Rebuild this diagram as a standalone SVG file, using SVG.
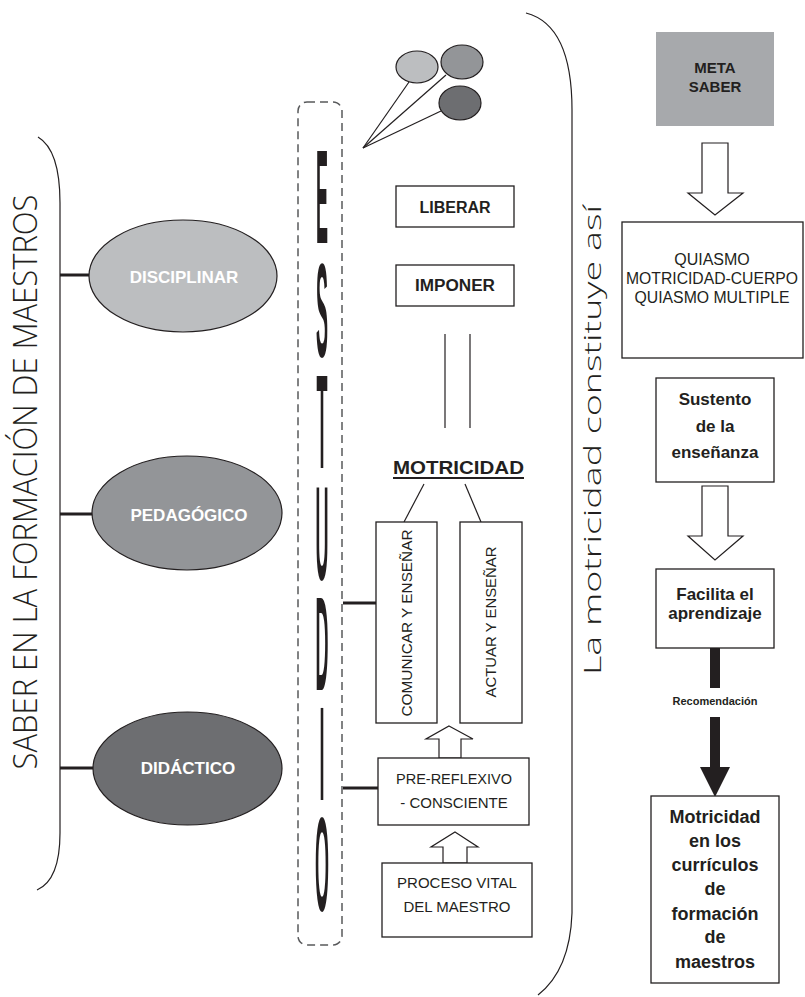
<svg xmlns="http://www.w3.org/2000/svg" width="805" height="997" viewBox="0 0 805 997">
<style>
.box{fill:#fff;stroke:#231f20;stroke-width:1.3}
.t{font-family:"Liberation Sans",Arial,sans-serif;fill:#231f20}
.b{font-weight:bold}
.c{text-anchor:middle}
.w{fill:#fff}
.ln{stroke:#231f20;stroke-width:1.2;fill:none}
.thick{stroke:#231f20;stroke-width:3;fill:none}
.hollow{fill:#fff;stroke:#231f20;stroke-width:1.2}
.big{font-family:"Open Sans","Liberation Sans",sans-serif;font-weight:300;fill:#231f20}
.st{font-family:"Liberation Sans",Arial,sans-serif;font-weight:bold;fill:#231f20;text-anchor:middle}
</style>
<rect width="805" height="997" fill="#fff"/>

<g id="connectors">
  <path class="ln" d="M38,137 Q60,150 60,203 L60,833 Q60,880 37,890"/>
  <path class="ln" d="M526,13 Q572,25 572,110 L572,913 Q570,970 538,995"/>
  <line class="thick" x1="60" y1="275" x2="89" y2="275"/>
  <line class="thick" x1="60" y1="514" x2="93" y2="514"/>
  <line class="thick" x1="60" y1="768" x2="93" y2="768"/>
  <line class="ln" x1="363" y1="148" x2="409" y2="82"/>
  <line class="ln" x1="363" y1="148" x2="446" y2="75"/>
  <line class="ln" x1="363" y1="148" x2="441" y2="111"/>
  <line class="ln" x1="445" y1="334" x2="445" y2="428"/>
  <line class="ln" x1="470" y1="334" x2="470" y2="428"/>
  <line class="ln" x1="424" y1="484" x2="404" y2="522"/>
  <line class="ln" x1="465" y1="484" x2="481" y2="522"/>
  <line class="thick" x1="343" y1="603" x2="376" y2="603"/>
  <line class="thick" x1="343" y1="788" x2="378" y2="788"/>
  <polygon class="hollow" points="449,726 473,739 461,739 461,758 439,758 439,739 426,739"/>
  <polygon class="hollow" points="455,832 478,847 467,847 467,863 443,863 443,847 431,847"/>
  <polygon class="hollow" points="702,143 728,143 728,193 743,193 715,215 688,193 702,193"/>
  <polygon class="hollow" points="702,486 728,486 728,536 743,536 715,560 688,536 702,536"/>
  <rect x="710" y="648" width="10" height="40" fill="#231f20"/>
  <rect x="710" y="717" width="10" height="52" fill="#231f20"/>
  <polygon points="700,767 730,767 715,797" fill="#231f20"/>
  <text class="st" x="715" y="705" font-size="11">Recomendación</text>
</g>

<g id="title-left">
  <text class="big" font-size="33" transform="translate(37,482) rotate(-90)" text-anchor="middle" textLength="575" lengthAdjust="spacingAndGlyphs">SABER EN LA FORMACIÓN DE MAESTROS</text>
</g>
<g id="title-right">
  <text class="big" font-size="24" transform="translate(601,440) rotate(-90)" text-anchor="middle" textLength="470" lengthAdjust="spacingAndGlyphs">La motricidad constituye así</text>
</g>

<g id="disciplinar">
  <ellipse cx="183" cy="276" rx="94" ry="56" fill="#bcbec0" stroke="#231f20" stroke-width="1.2"/>
  <text class="t b c w" x="184" y="283" font-size="17">DISCIPLINAR</text>
</g>
<g id="pedagogico">
  <ellipse cx="187" cy="513" rx="95" ry="57" fill="#939598" stroke="#231f20" stroke-width="1.2"/>
  <text class="t b c w" x="189" y="521" font-size="17">PEDAGÓGICO</text>
</g>
<g id="didactico">
  <ellipse cx="187.5" cy="768.5" rx="94.5" ry="56.5" fill="#6d6e71" stroke="#231f20" stroke-width="1.2"/>
  <text class="t b c w" x="188" y="774" font-size="17">DIDÁCTICO</text>
</g>

<g id="estudio">
  <rect x="298" y="102" width="44" height="843" rx="9" fill="none" stroke="#58595b" stroke-width="1.5" stroke-dasharray="8 5"/>
  <text class="st" font-size="18" transform="translate(322,0) scale(1,7.4)" x="0 0 0 0 0 0 0" y="32.84 48.24 63.24 78.38 93.24 108.11 123.1">ESTUDIO</text>
</g>

<g id="bubbles">
  <ellipse cx="417" cy="67" rx="21" ry="16" fill="#bcbec0" stroke="#231f20" stroke-width="1.2"/>
  <ellipse cx="462" cy="62" rx="21" ry="17" fill="#939598" stroke="#231f20" stroke-width="1.2"/>
  <ellipse cx="460" cy="103" rx="21" ry="17" fill="#6d6e71" stroke="#231f20" stroke-width="1.2"/>
</g>

<g id="liberar">
  <rect class="box" x="396" y="186" width="118" height="41"/>
  <text class="t b c" x="455" y="213" font-size="16">LIBERAR</text>
</g>
<g id="imponer">
  <rect class="box" x="396" y="265" width="118" height="41"/>
  <text class="t b c" x="455" y="291" font-size="16" textLength="80" lengthAdjust="spacingAndGlyphs">IMPONER</text>
</g>
<g id="motricidad">
  <text class="t b c" x="458.5" y="474" font-size="19" textLength="131" lengthAdjust="spacingAndGlyphs">MOTRICIDAD</text>
  <line x1="393" y1="478" x2="524" y2="478" stroke="#231f20" stroke-width="2"/>
</g>
<g id="comunicar">
  <rect class="box" x="376" y="522" width="61" height="201"/>
  <text class="t c" font-size="15" transform="translate(412,623) rotate(-90)" textLength="187" lengthAdjust="spacingAndGlyphs">COMUNICAR Y ENSEÑAR</text>
</g>
<g id="actuar">
  <rect class="box" x="460" y="522" width="62" height="201"/>
  <text class="t c" font-size="15" transform="translate(496,622) rotate(-90)" textLength="151" lengthAdjust="spacingAndGlyphs">ACTUAR Y ENSEÑAR</text>
</g>
<g id="prereflexivo">
  <rect class="box" x="378" y="758" width="151" height="67"/>
  <text class="t c" x="454" y="784" font-size="15" textLength="116" lengthAdjust="spacingAndGlyphs">PRE-REFLEXIVO</text>
  <text class="t c" x="454" y="808" font-size="15">- CONSCIENTE</text>
</g>
<g id="proceso">
  <rect class="box" x="382" y="863" width="150" height="74"/>
  <text class="t c" x="457" y="888" font-size="15">PROCESO VITAL</text>
  <text class="t c" x="457" y="912" font-size="15">DEL MAESTRO</text>
</g>

<g id="metasaber">
  <rect x="656" y="32" width="118" height="94" fill="#a7a9ac"/>
  <text class="t b c" x="715" y="73" font-size="15">META</text>
  <text class="t b c" x="715" y="92" font-size="15">SABER</text>
</g>
<g id="quiasmo">
  <rect class="box" x="622" y="222" width="181" height="136"/>
  <text class="t c" x="712" y="265" font-size="16">QUIASMO</text>
  <text class="t c" x="712" y="284" font-size="16" textLength="172" lengthAdjust="spacingAndGlyphs">MOTRICIDAD-CUERPO</text>
  <text class="t c" x="712" y="303" font-size="16" textLength="155" lengthAdjust="spacingAndGlyphs">QUIASMO MULTIPLE</text>
</g>
<g id="sustento">
  <rect class="box" x="656" y="378" width="118" height="104"/>
  <text class="t b c" x="715" y="405" font-size="17">Sustento</text>
  <text class="t b c" x="715" y="432" font-size="17">de la</text>
  <text class="t b c" x="715" y="458" font-size="17">enseñanza</text>
</g>
<g id="facilita">
  <rect class="box" x="656" y="569" width="118" height="79"/>
  <text class="t b c" x="715" y="600" font-size="17">Facilita el</text>
  <text class="t b c" x="715" y="619" font-size="17">aprendizaje</text>
</g>
<g id="curriculos">
  <rect class="box" x="651" y="796" width="128" height="187"/>
  <text class="t b c" x="715" y="823" font-size="18">Motricidad</text>
  <text class="t b c" x="715" y="847" font-size="18">en los</text>
  <text class="t b c" x="715" y="871" font-size="18">currículos</text>
  <text class="t b c" x="715" y="895" font-size="18">de</text>
  <text class="t b c" x="715" y="920" font-size="18">formación</text>
  <text class="t b c" x="715" y="943" font-size="18">de</text>
  <text class="t b c" x="715" y="968" font-size="18">maestros</text>
</g>
</svg>
